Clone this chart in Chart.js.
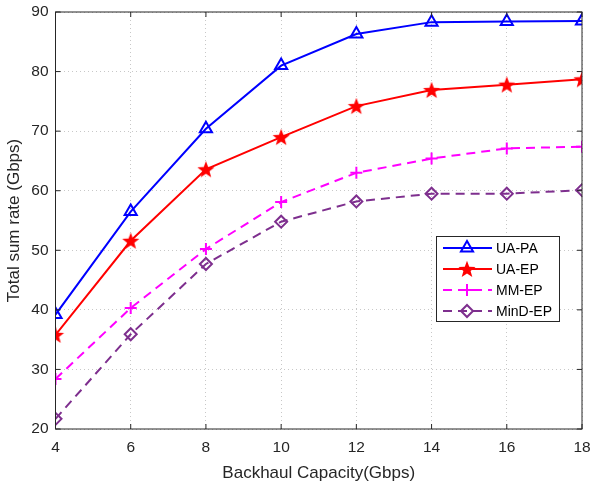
<!DOCTYPE html>
<html>
<head>
<meta charset="utf-8">
<script src="https://cdn.jsdelivr.net/npm/chart.js@4"></script>
<style>
  html, body { margin: 0; padding: 0; background: #fff; }
  #wrap { width: 592px; height: 485px; }
</style>
</head>
<body>
<div id="wrap"><canvas id="rateChart" width="592" height="485"></canvas></div>
<script>
// backhaul capacity (Gbps) and total sum rate per scheme
const capacity = [4, 6, 8, 10, 12, 14, 16, 18];
const uaPa   = [39.2, 56.5, 70.4, 81.0, 86.3, 88.3, 88.4, 88.5];
const uaEp   = [35.8, 51.6, 63.6, 69.0, 74.2, 76.9, 77.8, 78.7];
const mmEp   = [28.4, 40.3, 50.2, 58.1, 63.0, 65.4, 67.1, 67.4];
const mindEp = [21.7, 35.9, 47.7, 54.8, 58.2, 59.5, 59.5, 60.1];
const seriesNames = ['UA-PA', 'UA-EP', 'MM-EP', 'MinD-EP'];
const xTicks = [4, 6, 8, 10, 12, 14, 16, 18];
const yTicks = [20, 30, 40, 50, 60, 70, 80, 90];

const FONT = '"Liberation Sans", Arial, sans-serif';
const INK = '#262626';

// filled five-point star used as the UA-EP marker
function makeStar(color, r) {
  const c = document.createElement('canvas');
  const s = Math.ceil(r * 2 + 4);
  c.width = s; c.height = s;
  const g = c.getContext('2d');
  g.translate(s / 2, s / 2 + 0.8);
  g.beginPath();
  for (let i = 0; i < 10; i++) {
    const rad = i % 2 === 0 ? r : r * 0.42;
    const a = -Math.PI / 2 + i * Math.PI / 5;
    g.lineTo(rad * Math.cos(a), rad * Math.sin(a));
  }
  g.closePath();
  g.fillStyle = color;
  g.fill();
  return c;
}
const starImg = makeStar('#ff0000', 9);

function pts(arr) {
  return arr.map((v, i) => ({ x: capacity[i], y: v }));
}

const datasets = [
  { label: seriesNames[0], data: pts(uaPa), borderColor: '#0000ff', borderWidth: 2,
    pointStyle: 'triangle', pointRadius: 7, pointBorderWidth: 2,
    pointBackgroundColor: 'rgba(0,0,0,0)', pointBorderColor: '#0000ff' },
  { label: seriesNames[1], data: pts(uaEp), borderColor: '#ff0000', borderWidth: 2,
    pointStyle: starImg, pointRadius: 8 },
  { label: seriesNames[2], data: pts(mmEp), borderColor: '#ff00ff', borderWidth: 2,
    borderDash: [9, 6], pointStyle: 'cross', pointRadius: 6, pointBorderWidth: 2,
    pointBorderColor: '#ff00ff' },
  { label: seriesNames[3], data: pts(mindEp), borderColor: '#7e2f8e', borderWidth: 2,
    borderDash: [9, 6], pointStyle: 'rectRot', pointRadius: 6, pointBorderWidth: 2,
    pointBackgroundColor: 'rgba(0,0,0,0)', pointBorderColor: '#7e2f8e' }
];
datasets.forEach(d => { d.tension = 0; d.fill = false; });

// axes box with inward tick marks on all four sides
const boxPlugin = {
  id: 'axesBox',
  afterDatasetsDraw(chart) {
    const { ctx, chartArea: a, scales } = chart;
    ctx.save();
    ctx.strokeStyle = INK;
    ctx.lineWidth = 1;
    ctx.strokeRect(a.left, a.top, a.right - a.left, a.bottom - a.top);
    const len = 5;
    ctx.beginPath();
    xTicks.forEach(t => {
      const x = scales.x.getPixelForValue(t);
      ctx.moveTo(x, a.bottom); ctx.lineTo(x, a.bottom - len);
      ctx.moveTo(x, a.top); ctx.lineTo(x, a.top + len);
    });
    yTicks.forEach(t => {
      const y = scales.y.getPixelForValue(t);
      ctx.moveTo(a.left, y); ctx.lineTo(a.left + len, y);
      ctx.moveTo(a.right, y); ctx.lineTo(a.right - len, y);
    });
    ctx.stroke();
    ctx.restore();
  }
};

// legend box sitting inside the plot, right side
const legendPlugin = {
  id: 'innerLegend',
  afterDraw(chart) {
    const { ctx } = chart;
    const bx = 436, by = 236, bw = 123, bh = 85;
    ctx.save();
    ctx.fillStyle = '#fff';
    ctx.fillRect(bx, by, bw, bh);
    ctx.strokeStyle = INK;
    ctx.lineWidth = 1;
    ctx.strokeRect(bx + 0.5, by + 0.5, bw, bh);
    ctx.font = '14px ' + FONT;
    ctx.textBaseline = 'middle';
    chart.data.datasets.forEach((ds, i) => {
      const y = by + 12 + i * 21;
      ctx.save();
      ctx.strokeStyle = ds.borderColor;
      ctx.lineWidth = ds.borderWidth;
      ctx.setLineDash(ds.borderDash || []);
      ctx.beginPath();
      ctx.moveTo(443, y); ctx.lineTo(492, y);
      ctx.stroke();
      ctx.restore();
      ctx.save();
      ctx.strokeStyle = ds.pointBorderColor || ds.borderColor;
      ctx.fillStyle = ds.pointBackgroundColor || ds.borderColor;
      ctx.lineWidth = ds.pointBorderWidth || 1;
      Chart.helpers.drawPoint(ctx, { pointStyle: ds.pointStyle, radius: ds.pointRadius,
        borderWidth: ds.pointBorderWidth || 1, rotation: 0 }, 467, y);
      ctx.restore();
      ctx.fillStyle = '#000';
      ctx.fillText(ds.label, 496, y + 1);
    });
    ctx.restore();
  }
};

new Chart(document.getElementById('rateChart'), {
  type: 'line',
  data: { datasets },
  options: {
    responsive: false,
    animation: false,
    layout: { padding: { left: 0, right: 9, top: 12, bottom: 0 } },
    plugins: { legend: { display: false }, tooltip: { enabled: false } },
    scales: {
      x: {
        type: 'linear', min: 4, max: 18,
        afterBuildTicks: s => { s.ticks = xTicks.map(v => ({ value: v })); },
        afterFit: s => { s.height = 56; s.paddingLeft = 0; s.paddingRight = 0; },
        grid: { color: '#c8c8c8', drawTicks: false },
        border: { display: false, dash: [1, 3] },
        ticks: { color: INK, font: { family: FONT, size: 15.5 }, padding: 9, maxRotation: 0 },
        title: { display: true, text: 'Backhaul Capacity(Gbps)', color: INK,
          font: { family: FONT, size: 17 }, padding: { top: 4, bottom: 1 } }
      },
      y: {
        min: 20, max: 90,
        afterBuildTicks: s => { s.ticks = yTicks.map(v => ({ value: v })); },
        afterFit: s => { s.width = 55.5; s.paddingTop = 0; s.paddingBottom = 0; },
        grid: { color: '#c8c8c8', drawTicks: false },
        border: { display: false, dash: [1, 3] },
        ticks: { color: INK, font: { family: FONT, size: 15.5 }, padding: 7 },
        title: { display: true, text: 'Total sum rate (Gbps)', color: INK,
          font: { family: FONT, size: 17 }, padding: { top: 4, bottom: 2 } }
      }
    }
  },
  plugins: [boxPlugin, legendPlugin]
});
</script>
</body>
</html>
